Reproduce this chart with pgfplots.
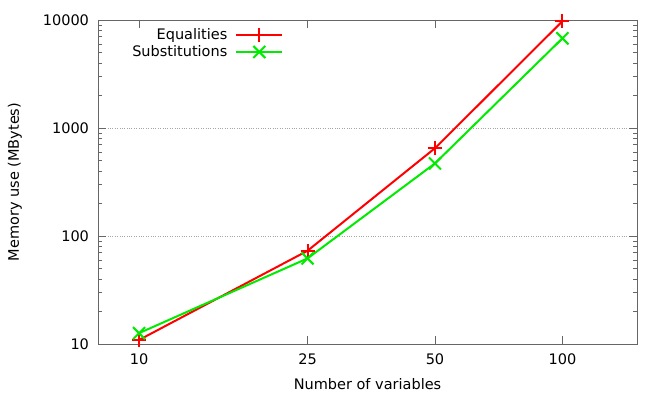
\documentclass[border=0pt]{standalone}
\usepackage{pgfplots}
\pgfplotsset{compat=1.18}
\usepackage{fontspec}
\setmainfont{DejaVu Sans}
\definecolor{gpred}{RGB}{255,0,0}
\definecolor{gpgreen}{RGB}{0,235,0}
\begin{document}
\fontsize{14.5bp}{17bp}\selectfont
\begin{tikzpicture}
\useasboundingbox (-98bp,-55bp) rectangle (566bp,344bp);
\begin{axis}[
  at={(0,0)}, anchor=south west,
  scale only axis, width=539bp, height=324bp,
  xmode=log, ymode=log,
  xmin=8, xmax=150, ymin=10, ymax=10000,
  xtick={10,25,50,100}, xticklabels={10,25,50,100},
  minor xtick={},
  ytick={10,100,1000,10000}, yticklabels={10,100,1000,10000},
  tick align=inside,
  major tick length=8bp, minor tick length=4bp,
  axis line style={draw=black!60, line width=0.8bp},
  every tick/.style={draw=black!60, line width=0.6bp},
  ymajorgrids, major grid style={draw=black!35, dotted, line width=0.6bp},
  tick label style={font=\fontsize{14.5bp}{17bp}\selectfont},
  label style={font=\fontsize{14.5bp}{17bp}\selectfont},
  xlabel={Number of variables}, ylabel={Memory use (MBytes)},
  xlabel style={at={(axis description cs:0.5,0)}, anchor=north, yshift=-29bp},
  ylabel style={at={(axis description cs:0,0.5)}, anchor=south, yshift=71bp},
  xticklabel style={yshift=-5bp},
  yticklabel style={xshift=-4bp},
  legend plot pos=right,
  legend cell align=right,
  legend style={at={(axis cs:22.3,10000)}, anchor=north east, yshift=-4bp, draw=none, fill=none,
    font=\fontsize{14.5bp}{17bp}\selectfont, row sep=0bp, column sep=6bp},
  legend image code/.code={\draw[mark repeat=2,mark phase=2] plot coordinates {(0bp,0bp) (23bp,0bp) (46bp,0bp)};},
]
\addplot[color=gpred, line width=2bp, mark=+, mark size=7bp, mark options={line width=2bp}]
  coordinates {(10,10.9) (25,73) (50,650) (100,9750)};
\addlegendentry{Equalities}
\addplot[color=gpgreen, line width=2bp, mark=x, mark size=8.5bp, mark options={line width=2bp}]
  coordinates {(10,12.6) (25,62) (50,470) (100,6770)};
\addlegendentry{Substitutions}
\end{axis}
\end{tikzpicture}
\end{document}
